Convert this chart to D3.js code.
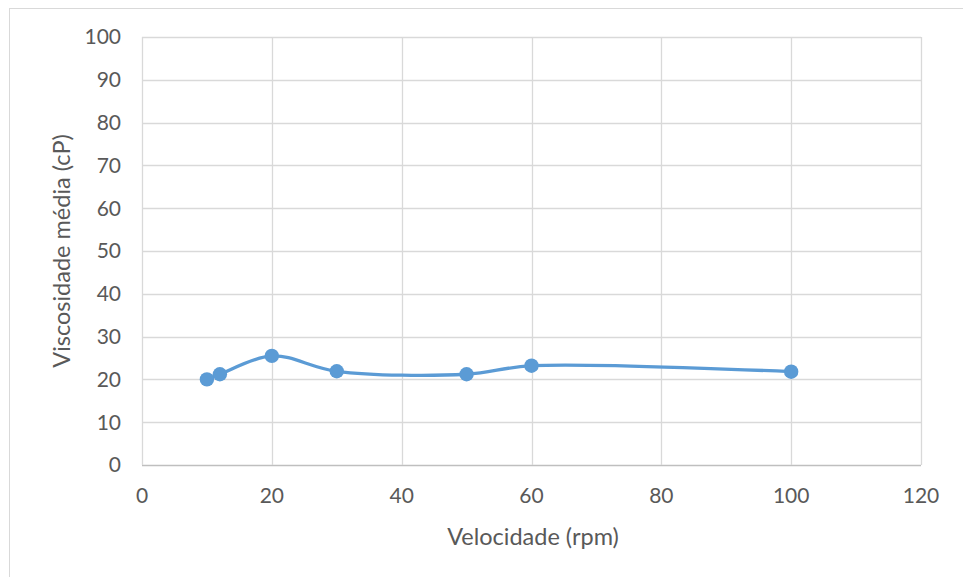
<!DOCTYPE html>
<html>
<head>
<meta charset="utf-8">
<script src="https://cdnjs.cloudflare.com/ajax/libs/d3/7.8.5/d3.min.js"></script>
<style>
  body { margin: 0; background: #fff; }
  text { font-family: Lato, "Open Sans", sans-serif; fill: #595959; }
</style>
</head>
<body>
<script>
"use strict"

const velocidade = [10, 12, 20, 30, 50, 60, 100];
const viscosidade = [20.0, 21.2, 25.5, 21.9, 21.2, 23.2, 21.8];
const xTicks = [0, 20, 40, 60, 80, 100, 120];
const yTicks = [0, 10, 20, 30, 40, 50, 60, 70, 80, 90, 100];

const w = 963, h = 577;
const plotLeft = 142, plotRight = 921, plotTop = 37, plotBottom = 465;

const svg = d3.select("body").append("svg")
	.attr("width", w)
	.attr("height", h);

// chart frame
svg.append("rect")
	.attr("x", 9.5).attr("y", 8.5)
	.attr("width", 1000).attr("height", 1000)
	.attr("fill", "none")
	.attr("stroke", "#d9d9d9");

const x = d3.scaleLinear().domain([0, 120]).range([plotLeft, plotRight]);
const y = d3.scaleLinear().domain([0, 100]).range([plotBottom, plotTop]);

// gridlines
svg.append("g").selectAll("line")
	.data(yTicks)
	.enter().append("line")
	.attr("x1", plotLeft).attr("x2", plotRight)
	.attr("y1", d => Math.round(y(d)) + 0.5)
	.attr("y2", d => Math.round(y(d)) + 0.5)
	.attr("stroke", d => d === 0 ? "#bfbfbf" : "#d9d9d9")
	.attr("stroke-width", 1.3);

svg.append("g").selectAll("line")
	.data(xTicks)
	.enter().append("line")
	.attr("y1", plotTop).attr("y2", plotBottom)
	.attr("x1", d => Math.round(x(d)) + 0.5)
	.attr("x2", d => Math.round(x(d)) + 0.5)
	.attr("stroke", "#d9d9d9")
	.attr("stroke-width", 1.3);

// tick labels
svg.append("g").selectAll("text")
	.data(yTicks)
	.enter().append("text")
	.attr("x", 121)
	.attr("y", d => y(d))
	.attr("dy", "0.35em")
	.attr("text-anchor", "end")
	.style("font-size", "21px")
	.text(d => d);

svg.append("g").selectAll("text")
	.data(xTicks)
	.enter().append("text")
	.attr("x", d => x(d))
	.attr("y", 503)
	.attr("text-anchor", "middle")
	.style("font-size", "21px")
	.text(d => d);

// axis titles
svg.append("text")
	.attr("x", 533)
	.attr("y", 545)
	.attr("text-anchor", "middle")
	.style("font-size", "23.5px")
	.text("Velocidade (rpm)");

svg.append("text")
	.attr("transform", "translate(70," + (plotTop + plotBottom) / 2 + ") rotate(-90)")
	.attr("text-anchor", "middle")
	.style("font-size", "23.5px")
	.text("Viscosidade média (cP)");

// series
const pts = velocidade.map((v, i) => [v, viscosidade[i]]);

const line = d3.line()
	.x(d => x(d[0]))
	.y(d => y(d[1]))
	.curve(d3.curveCatmullRom.alpha(0.5));

svg.append("path")
	.datum(pts)
	.attr("d", line)
	.attr("fill", "none")
	.attr("stroke", "#5b9bd5")
	.attr("stroke-width", 3.3)
	.attr("stroke-linecap", "round");

svg.append("g").selectAll("circle")
	.data(pts)
	.enter().append("circle")
	.attr("cx", d => x(d[0]))
	.attr("cy", d => y(d[1]))
	.attr("r", 7.2)
	.attr("fill", "#5b9bd5");
</script>
</body>
</html>
